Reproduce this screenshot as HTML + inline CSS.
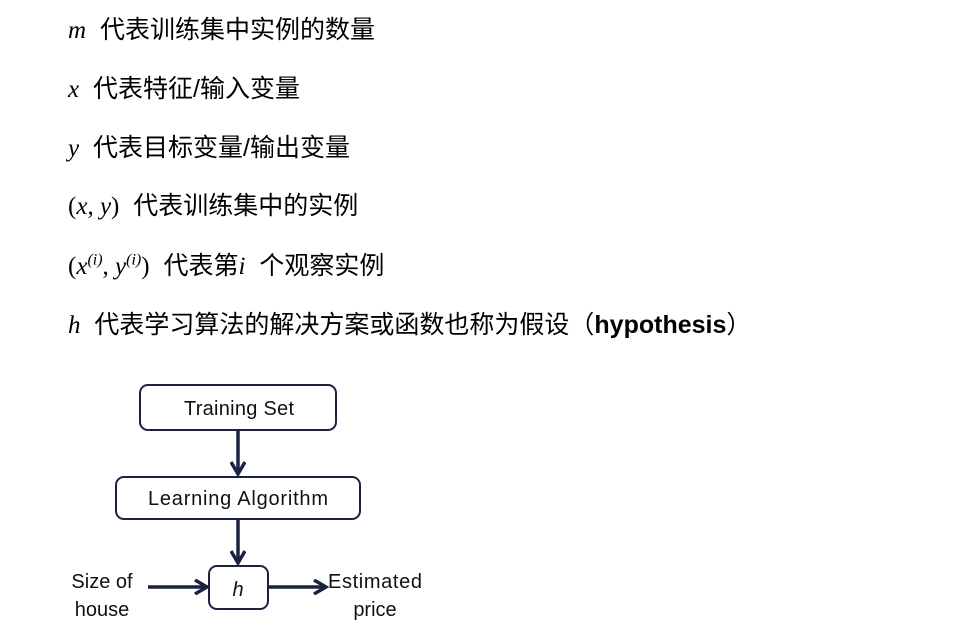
<!DOCTYPE html>
<html><head><meta charset="utf-8"><style>
body{margin:0;width:965px;height:623px;background:#fff;position:relative;overflow:hidden;font-family:"Liberation Sans","Noto Sans CJK SC",sans-serif;}
.l{position:absolute;left:68px;font-size:25px;color:#000;white-space:nowrap;line-height:30px;}
.m{font-family:"Liberation Serif",serif;font-style:italic;font-size:25px;}
.r{font-family:"Liberation Serif",serif;font-size:25px;}
sup{font-size:16px;line-height:0;}
</style></head><body>
<div class="l" style="top:15px"><span class="m">m</span>&nbsp;&nbsp;代表训练集中实例的数量</div>
<div class="l" style="top:74px"><span class="m">x</span>&nbsp;&nbsp;代表特征/输入变量</div>
<div class="l" style="top:133px"><span class="m">y</span>&nbsp;&nbsp;代表目标变量/输出变量</div>
<div class="l" style="top:191px"><span class="r">(</span><span class="m">x</span><span class="r">, </span><span class="m">y</span><span class="r">)</span>&nbsp;&nbsp;代表训练集中的实例</div>
<div class="l" style="top:251px"><span class="r">(</span><span class="m">x<sup>(i)</sup></span><span class="r">, </span><span class="m">y<sup>(i)</sup></span><span class="r">)</span>&nbsp;&nbsp;代表第<span class="m">i</span>&nbsp;&nbsp;个观察实例</div>
<div class="l" style="top:310px"><span class="m">h</span>&nbsp;&nbsp;代表学习算法的解决方案或函数也称为假设（<b>hypothesis</b>）</div>
<svg width="965" height="623" style="position:absolute;left:0;top:0" font-family="Liberation Sans, sans-serif">
<defs><marker id="a" markerWidth="16" markerHeight="16" refX="13" refY="8" orient="auto" markerUnits="userSpaceOnUse"><path d="M1,1 L13,8 L1,15" fill="none" stroke="#1c2340" stroke-width="3.5" stroke-linejoin="miter"/></marker></defs>
<g fill="#fff" stroke="#1c2340" stroke-width="2">
<rect x="140" y="385" width="196" height="45" rx="8"/>
<rect x="116" y="477" width="244" height="42" rx="8"/>
<rect x="209" y="566" width="59" height="43" rx="8"/>
</g>
<g stroke="#1c2340" stroke-width="3.5" marker-end="url(#a)">
<line x1="238" y1="431" x2="238" y2="474"/>
<line x1="238" y1="520" x2="238" y2="563"/>
<line x1="148" y1="587" x2="207" y2="587"/>
<line x1="269" y1="587" x2="326" y2="587"/>
</g>
<g font-size="20" fill="#111" text-anchor="middle">
<text x="239" y="415" textLength="110">Training Set</text>
<text x="238" y="505" textLength="180">Learning Algorithm</text>
<text x="238" y="596" font-style="italic">h</text>
<text x="102" y="588">Size of</text>
<text x="102" y="616">house</text>
<text x="375" y="588" textLength="94">Estimated</text>
<text x="375" y="616">price</text>
</g>
</svg>
</body></html>
